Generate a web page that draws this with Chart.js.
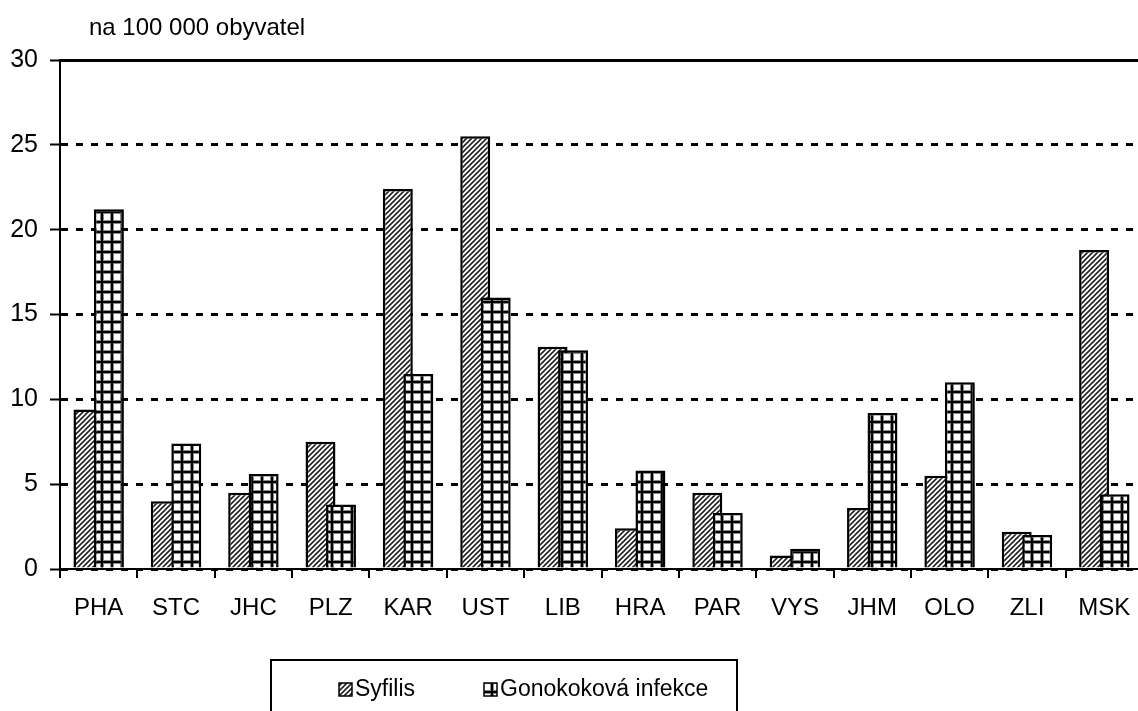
<!DOCTYPE html>
<html>
<head>
<meta charset="utf-8">
<script src="https://cdn.jsdelivr.net/npm/chart.js@4.4.1/dist/chart.umd.min.js"></script>
<style>
  html, body { margin: 0; padding: 0; background: #fff; overflow: hidden; }
  #wrap { width: 1138px; height: 711px; overflow: hidden; }
  canvas { display: block; }
</style>
</head>
<body>
<div id="wrap"><canvas id="chart" width="1153" height="711"></canvas></div>
<script>
const regions = ["PHA", "STC", "JHC", "PLZ", "KAR", "UST", "LIB", "HRA", "PAR", "VYS", "JHM", "OLO", "ZLI", "MSK"];
const syfilis = [9.4, 4.0, 4.5, 7.5, 22.4, 25.5, 13.1, 2.4, 4.5, 0.8, 3.6, 5.5, 2.2, 18.8];
const gonokok = [21.2, 7.4, 5.6, 3.8, 11.5, 16.0, 12.9, 5.8, 3.3, 1.2, 9.2, 11.0, 2.0, 4.4];
const seriesNames = ["Syfilis", "Gonokoková infekce"];
const unitLabel = "na 100 000 obyvatel";
const yMax = 30;
const yStep = 5;

const FONT = '"Liberation Sans", Arial, sans-serif';
Chart.defaults.font.family = FONT;
Chart.defaults.font.size = 24;
Chart.defaults.color = "#000";

const ctx = document.getElementById("chart").getContext("2d");

// diagonal "/" hatch
function hatch(size) {
  const c = document.createElement("canvas");
  c.width = size; c.height = size;
  const g = c.getContext("2d");
  g.fillStyle = "#fff";
  g.fillRect(0, 0, size, size);
  g.strokeStyle = "#222";
  g.lineWidth = 1.6;
  g.beginPath();
  g.moveTo(-1, size + 1); g.lineTo(size + 1, -1);
  g.moveTo(-1, 1); g.lineTo(1, -1);
  g.moveTo(size - 1, size + 1); g.lineTo(size + 1, size - 1);
  g.stroke();
  return ctx.createPattern(c, "repeat");
}

// square grid
function grid(size) {
  const c = document.createElement("canvas");
  c.width = size; c.height = size;
  const g = c.getContext("2d");
  g.fillStyle = "#fff";
  g.fillRect(0, 0, size, size);
  g.fillStyle = "#888";
  g.fillRect(0, 0, size, 4);
  g.fillRect(0, 0, 4, size);
  g.fillStyle = "#000";
  g.fillRect(0, 1, size, 2);
  g.fillRect(1, 0, 2, size);
  return ctx.createPattern(c, "repeat");
}

const hatchFill = hatch(5);
const gridFill = grid(10);

// draw Syfilis first so the Gonokoková bars sit on top of the overlap
const drawOrder = {
  id: "drawOrder",
  beforeDatasetsDraw(chart) {
    chart.getDatasetMeta(0).controller.draw();
    chart.getDatasetMeta(1).controller.draw();
    return false;
  }
};

const extras = {
  id: "extras",
  afterDraw(chart) {
    const c = chart.ctx;
    c.save();
    c.font = "24px " + FONT;
    c.fillStyle = "#000";
    c.textBaseline = "middle";
    c.textAlign = "left";
    c.fillText(unitLabel, 89, 28);

    // legend box
    c.font = "23px " + FONT;
    c.lineWidth = 2;
    c.strokeStyle = "#000";
    c.strokeRect(271, 660, 466, 70);
    const iconX = [339, 484];
    chart.data.datasets.forEach((ds, i) => {
      c.fillStyle = ds.backgroundColor;
      c.fillRect(iconX[i], 683, 13, 13);
      c.lineWidth = 1.5;
      c.strokeRect(iconX[i], 683, 13, 13);
      c.fillStyle = "#000";
      c.fillText(ds.label, iconX[i] + 16, 690);
    });
    c.restore();
  }
};

new Chart(ctx, {
  type: "bar",
  data: {
    labels: regions,
    datasets: [
      {
        label: seriesNames[0],
        data: syfilis,
        backgroundColor: hatchFill,
        borderColor: "#000",
        borderWidth: 2.5
      },
      {
        label: seriesNames[1],
        data: gonokok,
        backgroundColor: gridFill,
        borderColor: "#000",
        borderWidth: 2.5
      }
    ]
  },
  options: {
    responsive: false,
    animation: false,
    events: [],
    categoryPercentage: 0.53,
    barPercentage: 1.46,
    layout: { padding: { top: 60, right: 10, bottom: 0, left: 0 } },
    plugins: {
      legend: { display: false },
      tooltip: { enabled: false },
      title: { display: false }
    },
    scales: {
      x: {
        offset: true,
        grid: {
          offset: true,
          drawOnChartArea: false,
          drawTicks: true,
          tickLength: 9,
          color: "#000",
          lineWidth: 2
        },
        border: { display: true, color: "#000", width: 2 },
        ticks: { autoSkip: false, maxRotation: 0, padding: 16, font: { size: 24 } },
        afterFit: (s) => { s.height = 142; }
      },
      y: {
        min: 0,
        max: yMax,
        ticks: { stepSize: yStep, padding: 12, font: { size: 25 } },
        grid: {
          color: "#000",
          lineWidth: 3,
          tickLength: 10,
          tickColor: "#000",
          tickWidth: 2
        },
        border: {
          display: true,
          color: "#000",
          width: 2,
          dash: (c) => (c.tick && c.tick.value === yMax ? [] : [7, 8])
        },
        afterFit: (s) => { s.width = 60; }
      }
    }
  },
  plugins: [drawOrder, extras]
});
</script>
</body>
</html>
